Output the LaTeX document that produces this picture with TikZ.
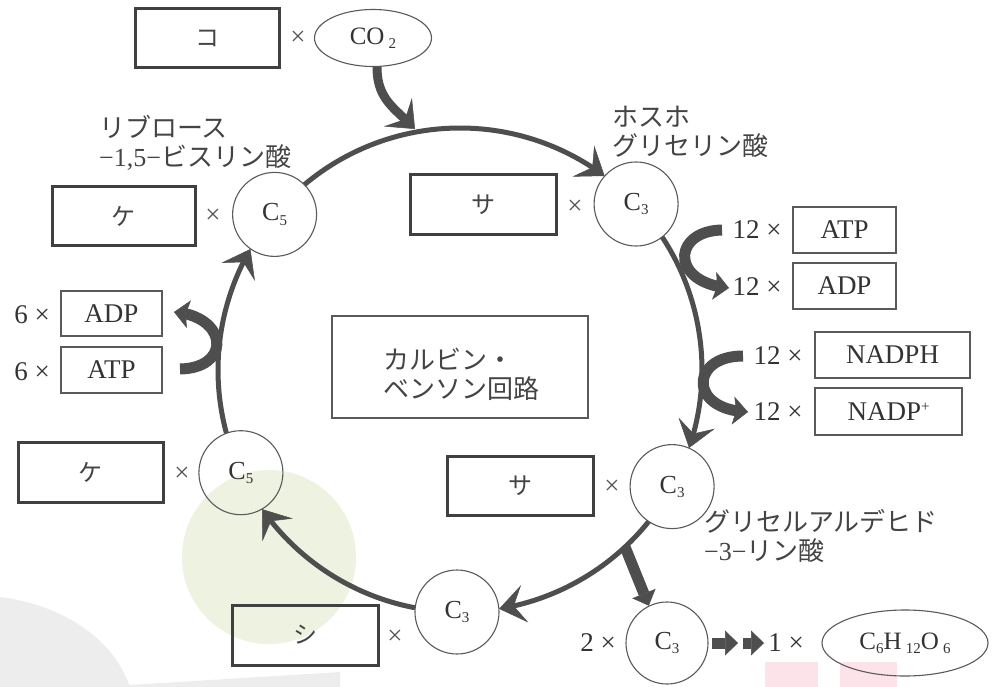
\documentclass[tikz,border=0pt]{standalone}
\usepackage{fontspec}
\setmainfont{Liberation Serif}
\newfontfamily\jp{Noto Sans CJK JP}
\usetikzlibrary{arrows.meta,shapes.geometric,calc,bending}
\definecolor{ink}{HTML}{404040}
\definecolor{thin}{HTML}{5A5A5A}
\definecolor{txt}{HTML}{333333}
\definecolor{jtxt}{HTML}{444444}
\definecolor{xtxt}{HTML}{555555}
\definecolor{arr}{HTML}{4E4E4E}
\definecolor{greenart}{HTML}{EEF2E0}
\definecolor{greyart}{HTML}{EDEDED}
\definecolor{pinkart}{HTML}{FBE3E9}
\newcommand\sbs[1]{\raisebox{-0.35ex}{\fontsize{15}{15}\selectfont #1}}
\newcommand\sps[1]{\raisebox{0.75ex}{\fontsize{15}{15}\selectfont #1}}
\begin{document}
\begin{tikzpicture}[x=1pt,y=-1pt,
 kbox/.style={draw=ink,line width=3pt,minimum height=59pt,inner sep=0pt,text=jtxt,font=\jp\fontsize{24}{24}\selectfont},
 tbox/.style={draw=thin,line width=1.3pt,minimum height=46pt,inner sep=0pt,text=txt,font=\fontsize{27}{27}\selectfont},
 mol/.style={circle,draw=thin,line width=1.1pt,minimum size=84pt,inner sep=0pt,text=txt,font=\fontsize{26}{26}\selectfont},
 oval/.style={ellipse,draw=thin,line width=1.1pt,inner sep=0pt,text=txt,font=\fontsize{25}{25}\selectfont},
 mult/.style={inner sep=0pt,text=txt,font=\fontsize{27}{27}\selectfont},
 xs/.style={inner sep=0pt,text=xtxt,font=\fontsize{27}{27}\selectfont},
 jlab/.style={inner sep=0pt,text=jtxt,align=left,font=\jp\fontsize{26}{29}\selectfont},
 cyc/.style={draw=arr,line width=5pt,-{Stealth[length=26pt,width=38pt,inset=11pt,line width=0.5pt]}},
 band/.style={draw=arr,line width=11pt,-{Stealth[length=15pt,width=28pt,inset=3pt,line width=0.5pt]}},
 blk/.style={draw=arr,line width=11pt,-{Triangle[length=13pt,width=25pt,line width=0.5pt]}}]
\useasboundingbox (0,0) rectangle (992,687);
\fill[white] (0,0) rectangle (992,687);
% scan artefacts
\fill[greyart] (0,597) .. controls (50,603) and (110,630) .. (130,687) -- (0,687) -- cycle;
\fill[greyart] (125,687) -- (130,685) -- (340,672) -- (340,687) -- cycle;
\fill[greenart] (269,557) circle[radius=87];
\fill[pinkart] (765,662) rectangle (818,687);
\fill[pinkart] (840,662) rectangle (897,687);

\coordinate (O) at (460,370);
% top
\node[kbox,minimum width=144pt] (ko) at (207,38.5) {コ};
\node[xs] (x0) at (298,38) {×};
\node[oval,minimum width=117pt,minimum height=57pt] (co2) at (373,38) {CO\,\sbs{2}};
\node[jlab,anchor=west] (rubp) at (99,143) {リブロース\\{\rmfamily −1,5−}ビスリン酸};
\node[jlab,anchor=west] (pga) at (612,132) {ホスホ\\グリセリン酸};
\node[kbox,minimum width=143pt] (ke1) at (123.5,216) {ケ};
\node[xs] (x1) at (213,216) {×};
\node[mol] (c5a) at (274.6,214.4) {C\sbs{5}};
\node[kbox,minimum width=146pt] (sa1) at (483,204.5) {サ};
\node[xs] (x2) at (575,207) {×};
\node[mol] (c3a) at (636.1,204.0) {C\sbs{3}};
% right
\node[mult] (m1) at (757,230) {12 ×};
\node[tbox,minimum width=103pt] (atp1) at (844.5,230) {ATP};
\node[mult] (m2) at (757,287) {12 ×};
\node[tbox,minimum width=103pt] (adp1) at (844.5,286) {ADP};
\node[mult] (m3) at (778,356) {12 ×};
\node[tbox,minimum width=155pt] (nadph) at (892.5,355) {NADPH};
\node[mult] (m4) at (778,412) {12 ×};
\node[tbox,minimum width=147pt,minimum height=47pt] (nadp) at (888.5,411.5) {NADP\sps{+}};
% left
\node[mult] (m5) at (32,315) {6 ×};
\node[tbox,minimum width=101pt,minimum height=45pt] (adp2) at (111.5,313.5) {ADP};
\node[mult] (m6) at (32,372) {6 ×};
\node[tbox,minimum width=101pt] (atp2) at (111.5,370) {ATP};
% centre
\node[draw=thin,line width=1.2pt,minimum width=256pt,minimum height=102pt] (calvin) at (460,367) {};
\node[jlab] (calvtxt) at (461,374) {カルビン・\\ベンソン回路};
% lower
\node[kbox,minimum width=145pt,minimum height=60pt] (ke2) at (90.5,472) {ケ};
\node[xs] (x3) at (182,474) {×};
\node[mol] (c5b) at (240.9,472.7) {C\sbs{5}};
\node[kbox,minimum width=146pt] (sa2) at (520,485.5) {サ};
\node[xs] (x4) at (612,487) {×};
\node[mol] (c3b) at (672.1,486.6) {C\sbs{3}};
\node[jlab,anchor=west] (gap) at (704,536) {グリセルアルデヒド\\{\rmfamily −3−}リン酸};
\node[kbox,minimum width=146pt,minimum height=60pt] (shi) at (305,635) {シ};
\node[xs] (x5) at (395,637) {×};
\node[mol] (c3c) at (457,612) {C\sbs{3}};
\node[mult] (m7) at (598,643) {2 ×};
\node[mol,minimum size=82pt] (c3d) at (667,643) {C\sbs{3}};
\node[mult] (m8) at (786,643) {1 ×};
\node[oval,minimum width=166pt,minimum height=66pt] (glc) at (905,643) {C\sbs{6}H\,\sbs{12}O\,\sbs{6}};

% cycle arcs
\draw[cyc] ($(O)+(-130:242)$) arc[start angle=-130,end angle=-53.3,radius=242];
\draw[cyc] ($(O)+(-33.3:242)$) arc[start angle=-33.3,end angle=18.8,radius=242];
\draw[cyc] ($(O)+(38.8:242)$) arc[start angle=38.8,end angle=80.7,radius=242];
\draw[cyc] ($(O)+(100.7:242)$) arc[start angle=100.7,end angle=144.9,radius=242];
\draw[cyc] ($(O)+(164.9:242)$) arc[start angle=164.9,end angle=210,radius=242];
% CO2 input
\coordinate (co2tip) at (415,129);
\draw[draw=arr,line width=9pt,-{Stealth[length=24pt,width=40pt,inset=10pt,line width=0.5pt]}]
  ([xshift=4pt]co2.south) .. controls +(0,33) and (395,108) .. (co2tip);
% side bands
\coordinate (b1s) at (722,230); \coordinate (b1e) at (729,288);
\draw[band] (b1s) .. controls (672,231) and (670,283) .. (b1e);
\coordinate (b2s) at (743,356); \coordinate (b2e) at (748,412);
\draw[band] (b2s) .. controls (690,356) and (688,410) .. (b2e);
\coordinate (b3s) at (180,369); \coordinate (b3e) at (174,312);
\draw[band] (b3s) .. controls (232,368) and (228,316) .. (b3e);
% branch to product
\draw[blk] ($(O)+(47:242)$) -- (c3d.116);
\coordinate (d1s) at (712,643); \coordinate (d1e) at (738,643);
\coordinate (d2s) at (743,643); \coordinate (d2e) at (764,643);
\draw[blk] (d1s) -- (d1e);
\draw[blk] (d2s) -- (d2e);
\end{tikzpicture}
\end{document}
